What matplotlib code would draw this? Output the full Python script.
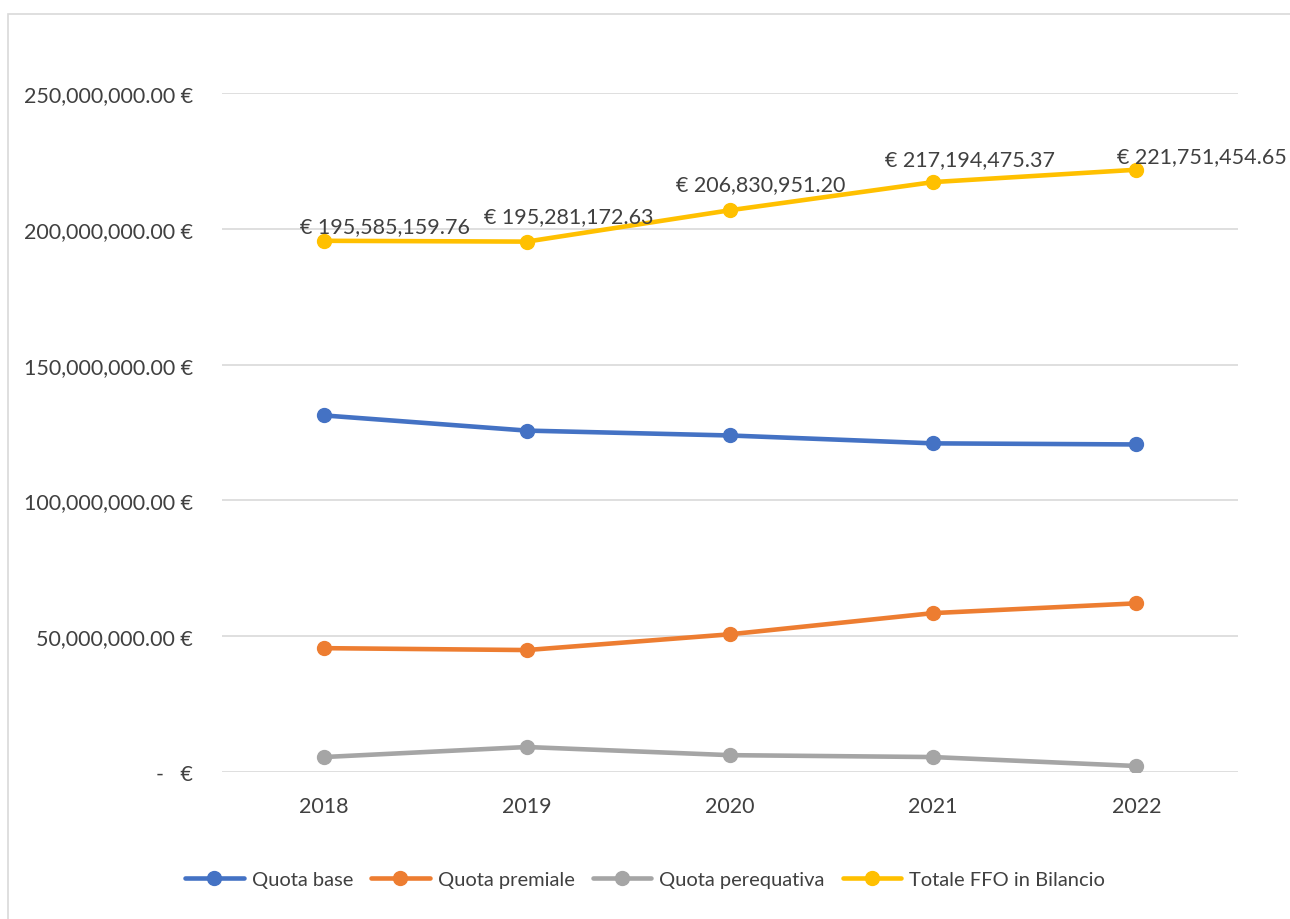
#!/usr/bin/env python3
"""FFO line chart: quota base / premiale / perequativa and totale in bilancio."""

import matplotlib

matplotlib.use("Agg")
import matplotlib.pyplot as plt
from matplotlib.patches import Rectangle
from matplotlib.ticker import FuncFormatter, MultipleLocator

years = ["2018", "2019", "2020", "2021", "2022"]
quota_base = [131.3e6, 125.7e6, 123.9e6, 121.0e6, 120.6e6]
quota_premiale = [45.6e6, 44.9e6, 50.7e6, 58.5e6, 62.1e6]
quota_perequativa = [5.5e6, 9.2e6, 6.2e6, 5.5e6, 2.2e6]
totale_ffo = [195585159.76, 195281172.63, 206830951.20, 217194475.37, 221751454.65]

series_names = ["Quota base", "Quota premiale", "Quota perequativa", "Totale FFO in Bilancio"]
series_colors = ["#4472C4", "#ED7D31", "#A5A5A5", "#FFC000"]

# hand-placed label offsets (points, label centre vs. point) as in the original sheet
label_offsets = [(44, 10.8), (30.2, 18.4), (22.3, 18.7), (26.6, 16.6), (47.2, 9.7)]

TEXT = "#404040"
GRID = "#D9D9D9"
NUM_SIZE = 15.5

plt.rcParams["font.family"] = ["Lato", "DejaVu Sans"]
plt.rcParams["font.size"] = NUM_SIZE


def euro_fmt(v, _pos):
    if abs(v) < 1:
        return "-   €"
    return f"{v:,.2f} €"


fig = plt.figure(figsize=(12.9, 9.2), dpi=100)
fig.patches.append(
    Rectangle((8 / 1290, -0.1), 2, 0.9837 + 0.1, transform=fig.transFigure,
              facecolor="none", edgecolor=GRID, lw=1.2)
)
ax = fig.add_axes([222 / 1290, 147 / 920, 1016 / 1290, 679 / 920])

x = list(range(len(years)))
all_series = [quota_base, quota_premiale, quota_perequativa, totale_ffo]
for vals, name, col in zip(all_series, series_names, series_colors):
    ax.plot(x, vals, color=col, lw=3.3, marker="o", markersize=10,
            solid_capstyle="round", label=name, zorder=3)

for xi, v, off in zip(x, totale_ffo, label_offsets):
    ax.annotate(f"€ {v:,.2f}", (xi, v), xytext=off,
                textcoords="offset points", ha="center", va="center",
                color=TEXT, fontsize=NUM_SIZE, zorder=4)

ax.set_xlim(-0.5, len(years) - 0.5)
ax.set_ylim(0, 250e6)
ax.yaxis.set_major_locator(MultipleLocator(50e6))
ax.yaxis.set_major_formatter(FuncFormatter(euro_fmt))
ax.set_xticks(x)
ax.set_xticklabels(years)
ax.grid(axis="y", color=GRID, lw=1.2)
ax.set_axisbelow(True)
for s in ax.spines.values():
    s.set_visible(False)
ax.tick_params(axis="both", length=0, colors=TEXT, labelsize=NUM_SIZE)
ax.tick_params(axis="y", pad=21)
ax.tick_params(axis="x", pad=17)

fig.legend(loc="center", bbox_to_anchor=(0.5, 1 - 880 / 920), ncol=4,
           frameon=False, fontsize=14.5, handlelength=2.9, columnspacing=0.9,
           handletextpad=0.4, labelcolor=TEXT)

fig.savefig("out.png", dpi=100)
